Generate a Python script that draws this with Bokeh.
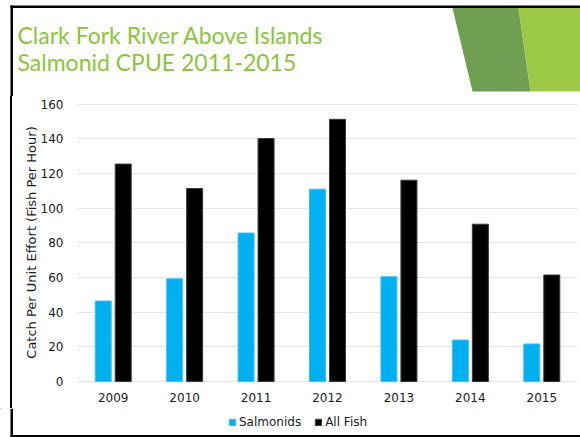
from bokeh.plotting import figure
from bokeh.models import (ColumnDataSource, FactorRange, Range1d, FixedTicker,
                          Legend, LegendItem, Spacer)
from bokeh.layouts import column, row
from bokeh.core.properties import value
from bokeh.transform import dodge
from bokeh.embed import file_html
from bokeh.resources import INLINE

# ---- data ----
years = ["2009", "2010", "2011", "2012", "2013", "2014", "2015"]
salmonids = [46.5, 59.3, 85.7, 111.0, 60.5, 24.0, 21.7]
all_fish = [125.5, 111.4, 140.2, 151.3, 116.2, 90.8, 61.5]
y_ticks = [0, 20, 40, 60, 80, 100, 120, 140, 160]
title_lines = ["Clark Fork River Above Islands", "Salmonid CPUE 2011-2015"]
y_title = "Catch Per Unit Effort (Fish Per Hour)"
series_names = ["Salmonids", "All Fish"]
series_colors = ["#00b0f0", "#000000"]
series_edges = ["#3cc0f2", "#3a3a3a"]

FONT = "DejaVu Sans"
TXT = "#1a1a1a"
BLACK = "#000000"

TOP_H, MID_H, BOT_H = 96, 312, 29
STRIP_W = 13


def deco_fig(w, h):
    f = figure(width=w, height=h, x_range=Range1d(0, w), y_range=Range1d(h, 0),
               output_backend="svg", toolbar_location=None, min_border=0)
    f.axis.visible = False
    f.grid.visible = False
    f.outline_line_color = None
    f.background_fill_color = "white"
    f.border_fill_color = "white"
    return f


# ---- top band: slide frame, title, decoration ----
top = deco_fig(580, TOP_H)
top.quad(left=10, right=580, top=5, bottom=7.5, fill_color=BLACK, line_color=None)
top.quad(left=10, right=12.5, top=5, bottom=TOP_H, fill_color=BLACK, line_color=None)
top.patch([452, 518, 530, 472], [7.5, 7.5, 91, 91], fill_color="#6fa052", line_color=None)
top.patch([518, 580, 580, 530], [7.5, 7.5, 91, 91], fill_color="#9dca46", line_color=None)
top.text(x=[17, 17], y=[34, 61.7], text=title_lines, text_font=value("Lato"),
         text_font_size="23px", text_color="#8cc43c", text_baseline="alphabetic")

# ---- left strip: slide frame (plain CSS stripe) ----
strip = Spacer(width=STRIP_W, height=MID_H,
               styles={"background": "linear-gradient(90deg, #ffffff 0px, #ffffff 10px, "
                                     "#000000 10px, #000000 12.5px, #ffffff 12.5px)"})

# ---- chart ----
CW = 580 - STRIP_W
FL, FR, FT, FB = 64, 564, 6, 286   # frame box in chart canvas pixels

src = ColumnDataSource(dict(year=years, salm=salmonids, allf=all_fish))

p = figure(width=CW, height=MID_H, x_range=FactorRange(*years, range_padding=0),
           y_range=Range1d(-0.5, 161), output_backend="svg", toolbar_location=None,
           min_border_left=FL, min_border_right=CW - FR, min_border_top=FT,
           min_border_bottom=MID_H - FB)
p.outline_line_color = None
p.background_fill_color = "white"
p.border_fill_color = "white"

p.vbar(x=dodge("year", -0.14, range=p.x_range), top="salm", width=0.224, bottom=0,
       source=src, fill_color=series_colors[0], line_color=series_edges[0], line_width=1)
p.vbar(x=dodge("year", 0.14, range=p.x_range), top="allf", width=0.224, bottom=0,
       source=src, fill_color=series_colors[1], line_color=series_edges[1], line_width=1)

p.yaxis.ticker = FixedTicker(ticks=y_ticks)
p.yaxis.axis_line_color = None
p.yaxis.major_tick_line_color = None
p.yaxis.minor_tick_line_color = None
p.yaxis.major_tick_out = 0
p.yaxis.major_tick_in = 0
p.yaxis.major_label_standoff = 14
p.yaxis.major_label_text_font = FONT
p.yaxis.major_label_text_font_size = "12px"
p.yaxis.major_label_text_color = TXT
p.yaxis.axis_label = y_title
p.yaxis.axis_label_text_font = FONT
p.yaxis.axis_label_text_font_size = "13px"
p.yaxis.axis_label_text_font_style = "normal"
p.yaxis.axis_label_text_color = TXT
p.yaxis.axis_label_standoff = -1

p.xaxis.axis_line_color = None
p.xaxis.major_tick_line_color = None
p.xaxis.major_tick_out = 0
p.xaxis.major_tick_in = 0
p.xaxis.major_label_standoff = 10
p.xaxis.major_label_text_font = FONT
p.xaxis.major_label_text_font_size = "12px"
p.xaxis.major_label_text_color = TXT

p.xgrid.grid_line_color = None
p.ygrid.ticker = FixedTicker(ticks=y_ticks)
p.ygrid.grid_line_color = "#e6e6e6"
p.ygrid.grid_line_width = 1

# ---- bottom band: legend + slide frame ----
bot = deco_fig(580, BOT_H)
bot.quad(left=10, right=12.5, top=0, bottom=BOT_H, fill_color=BLACK, line_color=None)
bot.quad(left=10, right=580, top=BOT_H - 2.5, bottom=BOT_H, fill_color=BLACK, line_color=None)
# legend swatches: one off-canvas proxy bar per series (never visible in the band)
proxy_src = ColumnDataSource(dict(x=[-100], top=[-100]))
proxies = [bot.vbar(x="x", top="top", width=1, source=proxy_src, fill_color=c, line_color=e)
           for c, e in zip(series_colors, series_edges)]
legend = Legend(items=[LegendItem(label=n, renderers=[r], index=0)
                       for n, r in zip(series_names, proxies)],
                orientation="horizontal", location=(228, 8),
                glyph_width=8, glyph_height=8, label_height=8, label_standoff=3,
                spacing=13, padding=0, margin=0, border_line_color=None,
                background_fill_alpha=0, label_text_font=FONT,
                label_text_font_size="12px", label_text_color=TXT)
bot.add_layout(legend, "center")

layout = column(top, row(strip, p), bot)
open("out.html", "w").write(file_html(layout, INLINE))
